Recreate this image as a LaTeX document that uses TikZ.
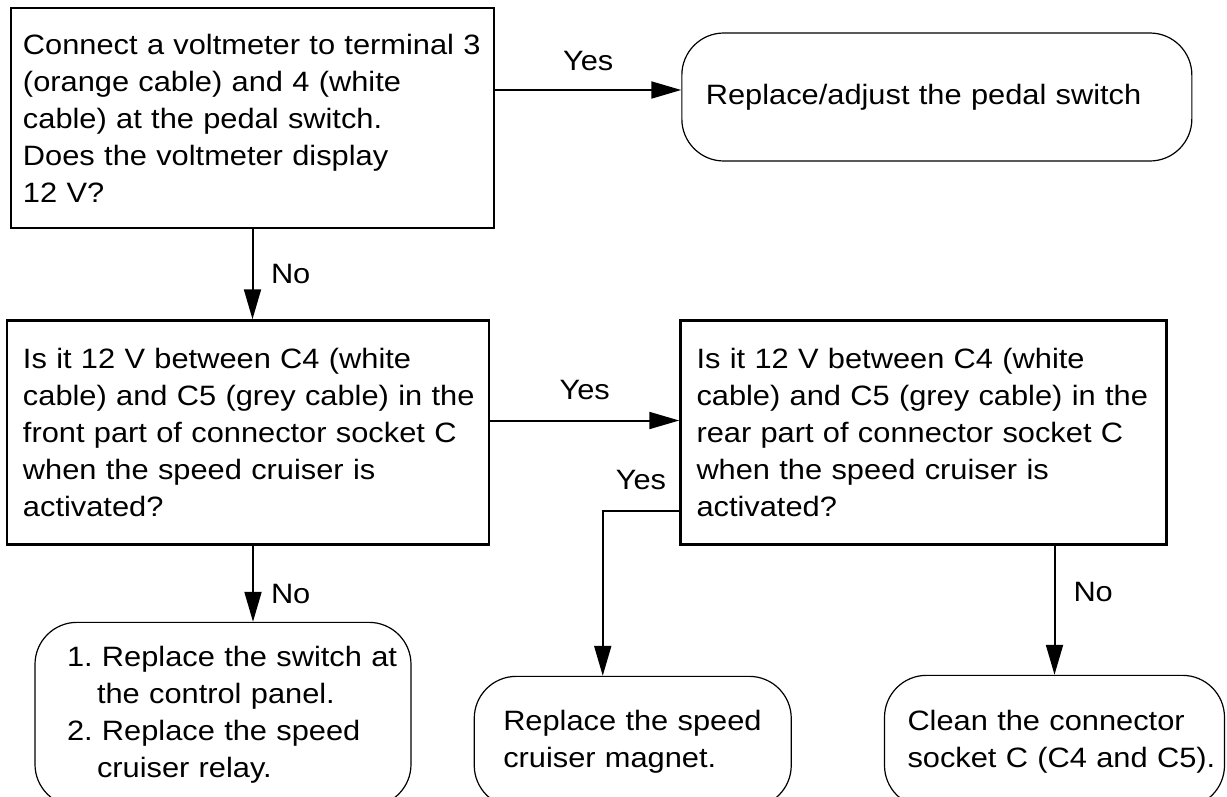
\documentclass[tikz,border=0pt]{standalone}
\usepackage{fontspec}
\setmainfont{Liberation Sans}[FakeStretch=1.1]
\usetikzlibrary{arrows.meta, positioning}

\begin{document}
\begin{tikzpicture}[
  x=1pt, y=-1pt,
  every node/.style={font=\fontsize{28}{37}\selectfont\frenchspacing},
  box/.style={draw, align=left, inner xsep=0pt, inner ysep=0pt,
    execute at begin node={\leftskip=#1}},
  question/.style={box=#1, line width=2.5pt},
  result/.style={box=#1, line width=1.2pt, rounded corners=42pt},
  lbl/.style={inner sep=0pt},
  arr/.style={-{Triangle[length=30pt, width=17pt]}, line width=2pt},
]
\useasboundingbox (0,0) rectangle (1227,796);
\clip (0,0) rectangle (1227,796);

\node[question=12pt, text width=483pt, minimum height=220pt] (q1) at (252.5,118)
  {Connect a voltmeter to terminal 3\\(orange cable) and 4 (white\\cable) at the pedal switch.\\Does the voltmeter display\\12 V?};
\node[result=24pt, text width=510pt, minimum height=128pt, right=186pt of q1, yshift=21pt] (a1)
  {Replace/adjust the pedal switch};
\node[question=16pt, text width=482pt, minimum height=224pt, below=90pt of q1, xshift=-4.5pt] (q2)
  {Is it 12 V between C4 (white\\cable) and C5 (grey cable) in the\\front part of connector socket C\\when the speed cruiser is\\activated?};
\node[question=16pt, text width=486pt, minimum height=224pt, right=189pt of q2] (q3)
  {Is it 12 V between C4 (white\\cable) and C5 (grey cable) in the\\rear part of connector socket C\\when the speed cruiser is\\activated?};
\node[result=32pt, text width=376pt, minimum height=184pt, below=76pt of q2, xshift=-25pt] (a2)
  {1. Replace the switch at\\\hspace*{30pt}the control panel.\\2. Replace the speed\\\hspace*{30pt}cruiser relay.};
\node[result=29pt, text width=317pt, minimum height=131pt, below=130pt of q3.south west, xshift=-46.5pt] (a3)
  {Replace the speed\\cruiser magnet.};
\node[result=23pt, text width=340pt, minimum height=132pt, below=129pt of q3, xshift=131pt] (a4)
  {Clean the connector\\socket C (C4 and C5).};

\draw[arr] ([yshift=7pt]a1.west -| q1.east) -- node[lbl, above=18pt] {Yes} ([yshift=7pt]a1.west);
\draw[arr] (q1.south) -- node[lbl, right=17.5pt] {No} (q1.south |- q2.north);
\draw[arr] ([yshift=12pt]q3.west -| q2.east) -- node[lbl, above=20pt] {Yes} ([yshift=12pt]q3.west);
\draw[arr] ([yshift=-78pt]q3.west) -| node[lbl, pos=0.25, above=20pt] {Yes} ([xshift=-30pt]a3.north);
\draw[arr] ([xshift=5pt]q2.south) -- node[lbl, pos=0.63, right=17pt] {No} ([xshift=5pt]q2.south |- a2.north);
\draw[arr] (q3.south -| a4.north) -- node[lbl, pos=0.36, right=18pt] {No} (a4.north);
\end{tikzpicture}
\end{document}
